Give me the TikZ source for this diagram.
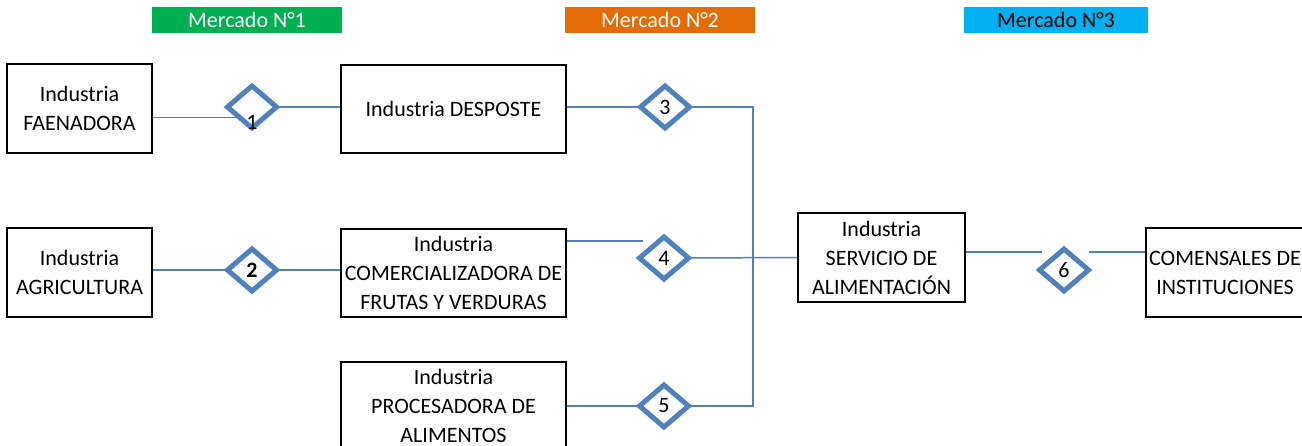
\documentclass[tikz,border=0pt]{standalone}
\usepackage{fontspec}
\setmainfont{Carlito}
\usetikzlibrary{shapes.geometric,backgrounds}
\definecolor{lineblue}{HTML}{4F81BD}
\definecolor{mgreen}{HTML}{00B050}
\definecolor{morange}{HTML}{E36C09}
\definecolor{mcyan}{HTML}{00B0F0}
\begin{document}
\begin{tikzpicture}[x=1pt,y=-1pt,
  txt/.style={font=\fontsize{22}{29}\selectfont},
  box/.style={txt,draw=black,line width=1.5pt,align=center,inner sep=0pt,outer sep=0pt},
  mbox/.style={txt,inner sep=0pt,minimum height=26pt},
  dia/.style={txt,diamond,draw=lineblue,fill=white,line width=5pt,inner sep=0pt,outer sep=0pt,minimum width=49pt,minimum height=42pt},
  conn/.style={draw=lineblue,line width=1.5pt}]
\useasboundingbox (0,0) rectangle (1302,446);
% market labels
\node[mbox,fill=mgreen,text=white,minimum width=190pt] (m1) at (247,20) {Mercado N°1};
\node[mbox,fill=morange,text=white,minimum width=190pt] (m2) at (660,20) {Mercado N°2};
\node[mbox,fill=mcyan,text=black,minimum width=184pt] (m3) at (1056,20) {Mercado N°3};
% boxes
\node[box,minimum width=145pt,minimum height=89pt] (fae) at (79.5,108.5) {Industria\\FAENADORA};
\node[box,minimum width=225pt,minimum height=88pt] (des) at (453.5,109) {Industria DESPOSTE};
\node[box,minimum width=145pt,minimum height=89pt] (agr) at (79.5,272.5) {Industria\\AGRICULTURA};
\node[box,minimum width=225pt,minimum height=88pt] (com) at (453.5,273) {Industria\\COMERCIALIZADORA DE\\FRUTAS Y VERDURAS};
\node[box,minimum width=225pt,minimum height=88pt] (pro) at (453.5,406) {Industria\\PROCESADORA DE\\ALIMENTOS};
\node[box,minimum width=167pt,minimum height=89pt] (ser) at (881.5,257.5) {Industria\\SERVICIO DE\\ALIMENTACIÓN};
\node[box,minimum width=158pt,minimum height=89pt] (cmn) at (1225,272.5) {COMENSALES DE\\INSTITUCIONES};
% diamonds
\node[dia,label={[txt,yshift=-15pt]center:1}] (d1) at (252,107) {};
\node[dia] (d2) at (252,270) {\textbf{2}};
\node[dia] (d3) at (665,107) {3};
\node[dia] (d4) at (664,258) {4};
\node[dia] (d5) at (664,406) {5};
\node[dia] (d6) at (1064,270) {6};
% free coordinates
\coordinate (bus) at (753,258);
\coordinate (c4) at (643,241);
\coordinate (s6a) at (1042,252);
\coordinate (s6b) at (1089,252);
\begin{pgfonlayer}{background}
\draw[conn] (fae.east |- d1.south west) -- (d1.south west);
\draw[conn] (d1.east) -- (des.west |- d1.east);
\draw[conn] (agr.east |- d2.west) -- (d2.west);
\draw[conn] (d2.east) -- (com.west |- d2.east);
\draw[conn] (des.east |- d3.west) -- (d3.west);
\draw[conn] (d3.east) -| (bus) |- (d5.east);
\draw[conn] (com.east |- c4) -- (c4);
\draw[conn] (d4.east) -- (ser.west);
\draw[conn] (pro.east |- d5.west) -- (d5.west);
\draw[conn] (ser.east |- s6a) -- (s6a);
\draw[conn] (s6b) -- (cmn.west |- s6b);
\end{pgfonlayer}
\end{tikzpicture}
\end{document}
